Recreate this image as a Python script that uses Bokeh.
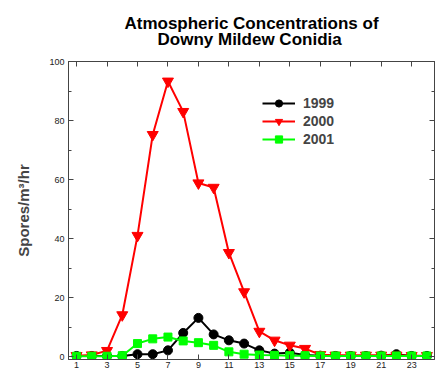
from bokeh.plotting import figure
from bokeh.models import (Range1d, FixedTicker, LinearAxis, Legend, LegendItem, Title)
from bokeh.embed import file_html
from bokeh.resources import INLINE

hours = list(range(1, 25))
y1999 = [0.2, 0.2, 0.2, 0.2, 0.8, 0.8, 2.1, 8.0, 13.1, 7.5, 5.5, 4.4,
         2.1, 1.0, 1.3, 0.5, 0.3, 0.2, 0.2, 0.2, 0.3, 0.8, 0.2, 0.2]
y2000 = [0.3, 0.5, 2.0, 14.1, 41.0, 75.2, 93.3, 83.0, 58.8, 57.3, 35.2, 21.9,
         8.5, 5.5, 3.8, 2.7, 0.6, 0.4, 0.4, 0.4, 0.4, 0.4, 0.3, 0.3]
y2001 = [0.1, 0.1, 0.1, 0.3, 4.4, 6.0, 6.6, 5.3, 4.7, 3.8, 1.6, 0.8,
         0.5, 0.4, 0.3, 0.3, 0.2, 0.2, 0.2, 0.2, 0.2, 0.2, 0.2, 0.2]
x_ticks = list(range(1, 24, 2))
y_ticks = [0, 20, 40, 60, 80, 100]
y_minor = [10, 30, 50, 70, 90]
title_lines = ["Atmospheric Concentrations of", "Downy Mildew Conidia"]

FONT = "Liberation Sans"
AX = "#444444"

p = figure(width=441, height=373, output_backend="svg", toolbar_location=None,
           title=None,
           x_range=Range1d(0.47, 24.5), y_range=Range1d(-1.0, 100),
           min_border_left=68, min_border_right=7, min_border_top=60,
           min_border_bottom=14, x_axis_type=None, y_axis_type=None)
p.grid.visible = False
p.outline_line_color = AX
p.background_fill_color = "white"

def style_axis(ax, labels=True):
    ax.axis_line_color = AX
    ax.major_tick_line_color = AX
    ax.minor_tick_line_color = AX
    ax.major_tick_in = 5
    ax.major_tick_out = 0
    ax.minor_tick_in = 3
    ax.minor_tick_out = 0
    ax.major_label_text_font = FONT
    ax.major_label_text_font_size = "9px"
    ax.major_label_text_color = "#222222" if labels else None
    ax.major_label_standoff = 2

xb = LinearAxis(ticker=FixedTicker(ticks=x_ticks))
style_axis(xb)
p.add_layout(xb, "below")
xt = LinearAxis(ticker=FixedTicker(ticks=x_ticks))
style_axis(xt, labels=False)
xt.major_label_standoff = 0
p.add_layout(xt, "above")

yl = LinearAxis(ticker=FixedTicker(ticks=y_ticks, minor_ticks=y_minor),
                axis_label="Spores/m³/hr")
style_axis(yl)
yl.major_label_standoff = 4
yl.axis_label_text_font = FONT
yl.axis_label_text_font_style = "bold"
yl.axis_label_text_font_size = "15px"
yl.axis_label_standoff = 14
p.add_layout(yl, "left")
yr = LinearAxis(ticker=FixedTicker(ticks=y_ticks, minor_ticks=y_minor))
style_axis(yr, labels=False)
yr.major_label_standoff = 0
p.add_layout(yr, "right")

# multi-line title: second line shifted with non-breaking spaces to centre it
title_text = title_lines[0] + "\n" + "\u00a0" * 7 + title_lines[1]
t = Title(text=title_text, align="center", text_font=FONT,
          text_font_style="bold", text_font_size="17px", text_color="black",
          text_line_height=0.85, standoff=24)
p.add_layout(t, "above")

l1 = p.line(hours, y1999, line_color="black", line_width=2)
s1 = p.scatter(hours, y1999, marker="circle", size=9, fill_color="black", line_color="black")
l2 = p.line(hours, y2000, line_color="#FF0000", line_width=2)
s2 = p.scatter(hours, y2000, marker="inverted_triangle", size=11, fill_color="#FF0000", line_color="#FF0000")
l3 = p.line(hours, y2001, line_color="#00FF00", line_width=2)
s3 = p.scatter(hours, y2001, marker="square", size=8, fill_color="#00FF00", line_color="#00FF00")

legend = Legend(items=[LegendItem(label="1999", renderers=[l1, s1]),
                       LegendItem(label="2000", renderers=[l2, s2]),
                       LegendItem(label="2001", renderers=[l3, s3])],
                location=(194, 211), padding=0, margin=0, spacing=0,
                glyph_width=33, glyph_height=18, label_standoff=8,
                label_text_font=FONT, label_text_font_style="bold",
                label_text_font_size="14px", border_line_color=None,
                background_fill_alpha=0)
p.add_layout(legend, "center")

open("out.html", "w").write(file_html(p, INLINE))
